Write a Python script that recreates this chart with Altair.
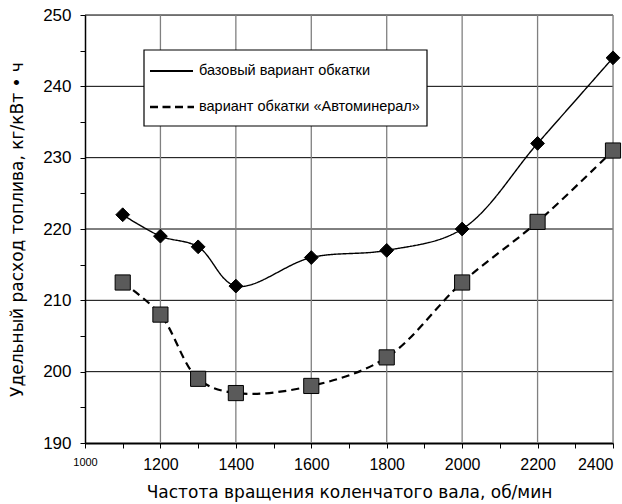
import altair as alt
import pandas as pd

rpm = [1100, 1200, 1300, 1400, 1600, 1800, 2000, 2200, 2400]
base = [222, 219, 217.5, 212, 216, 217, 220, 232, 244]
auto = [212.5, 208, 199, 197, 198, 202, 212.5, 221, 231]
s1 = "базовый вариант обкатки"
s2 = "вариант обкатки «Автоминерал»"
series_names = [s1, s2]

x_ticks = list(range(1000, 2401, 100))
y_ticks = list(range(190, 251, 5))
x_grid = [1200, 1400, 1600, 1800, 2000, 2200, 2400]
y_grid = [200, 210, 220, 230, 240, 250]

x_title = "Частота вращения коленчатого вала, об/мин"
y_title = "Удельный расход топлива, кг/кВт • ч"

rows = []
for r, b, a in zip(rpm, base, auto):
    rows.append({"rpm": r, "val": b, "series": s1})
    rows.append({"rpm": r, "val": a, "series": s2})
df = pd.DataFrame(rows)

FONT = "Liberation Sans"
TFONT = "DejaVu Sans"
xscale = alt.Scale(domain=[1000, 2400], nice=False, zero=False)
yscale = alt.Scale(domain=[190, 250], nice=False, zero=False)

xaxis = alt.Axis(
    values=x_ticks, grid=False, title=x_title, format="d",
    labelExpr="datum.value % 200 == 0 ? datum.label : ''",
    labelFontSize={"condition": {"test": "datum.value == 1000", "value": 11}, "value": 16},
    labelAlign={"condition": {"test": "datum.value == 2400", "value": "right"}, "value": "center"},
    labelFlush=False, labelOverlap=False, labelPadding=8,
    tickSize=5, tickColor="black", domainColor="black", domainWidth=2,
    labelColor="black", titleColor="black", titleFontSize=17, titleFontWeight="normal",
    titlePadding=12, labelFont=FONT, titleFont=TFONT,
)
yaxis = alt.Axis(
    values=y_ticks, grid=False, title=y_title, format="d",
    labelExpr="datum.value % 10 == 0 ? datum.label : ''",
    labelFontSize=17, labelOverlap=False, labelFlush=False, labelPadding=9,
    tickSize=5, tickColor="black", domainColor="black", domainWidth=1.5,
    labelColor="black", titleColor="black", titleFontSize=17, titleFontWeight="normal",
    titlePadding=16, labelFont=FONT, titleFont=TFONT,
)

hgrid = alt.Chart(pd.DataFrame({"v": y_grid})).mark_rule(color="black", strokeWidth=1).encode(
    y=alt.Y("v:Q", scale=yscale, axis=yaxis)
)
vgrid = alt.Chart(pd.DataFrame({"v": x_grid})).mark_rule(color="#808080", strokeWidth=1.3).encode(
    x=alt.X("v:Q", scale=xscale, axis=xaxis)
)

lines = alt.Chart(df).mark_line(interpolate="catmull-rom", color="black").encode(
    x=alt.X("rpm:Q", scale=xscale, axis=xaxis),
    y=alt.Y("val:Q", scale=yscale, axis=yaxis),
    strokeDash=alt.StrokeDash(
        "series:N",
        scale=alt.Scale(domain=series_names, range=[[1, 0], [8, 5]]),
        legend=None,
    ),
    strokeWidth=alt.StrokeWidth(
        "series:N", scale=alt.Scale(domain=series_names, range=[1.4, 2.2]), legend=None
    ),
)

points = alt.Chart(df).mark_point(filled=True, opacity=1, stroke="black", strokeWidth=1).encode(
    x=alt.X("rpm:Q", scale=xscale, axis=xaxis),
    y=alt.Y("val:Q", scale=yscale, axis=yaxis),
    shape=alt.Shape("series:N", scale=alt.Scale(domain=series_names, range=["diamond", "square"]), legend=None),
    fill=alt.Fill("series:N", scale=alt.Scale(domain=series_names, range=["black", "#5a5a5a"]), legend=None),
    size=alt.Size("series:N", scale=alt.Scale(domain=series_names, range=[190, 230]), legend=None),
)

# manual legend box (decoration)
one = pd.DataFrame({"k": [0]})
leg_box = alt.Chart(one).mark_rect(fill="white", stroke="black", strokeWidth=1.2).encode(
    x=alt.value(59), x2=alt.value(342), y=alt.value(35), y2=alt.value(111)
)
leg_l1 = alt.Chart(one).mark_rule(color="black", strokeWidth=2).encode(
    x=alt.value(65), x2=alt.value(108), y=alt.value(56)
)
leg_l2 = alt.Chart(one).mark_rule(color="black", strokeWidth=2.5, strokeDash=[8, 4.5]).encode(
    x=alt.value(65), x2=alt.value(109), y=alt.value(92)
)
leg_t1 = alt.Chart(one).mark_text(align="left", baseline="middle", font=FONT, fontSize=14.5, color="black").encode(
    x=alt.value(114), y=alt.value(56), text=alt.value(s1)
)
leg_t2 = alt.Chart(one).mark_text(align="left", baseline="middle", font=FONT, fontSize=14.5, color="black").encode(
    x=alt.value(114), y=alt.value(92), text=alt.value(s2)
)

chart = alt.layer(hgrid, vgrid, lines, points, leg_box, leg_l1, leg_l2, leg_t1, leg_t2).properties(
    width=528, height=428,
    padding={"left": 85, "top": 15, "right": 9, "bottom": 61},
    autosize=alt.AutoSizeParams(type="none"),
).configure_view(stroke=None).configure(background="white")

chart.save("out.html", embed_options={"renderer": "svg", "actions": False})
